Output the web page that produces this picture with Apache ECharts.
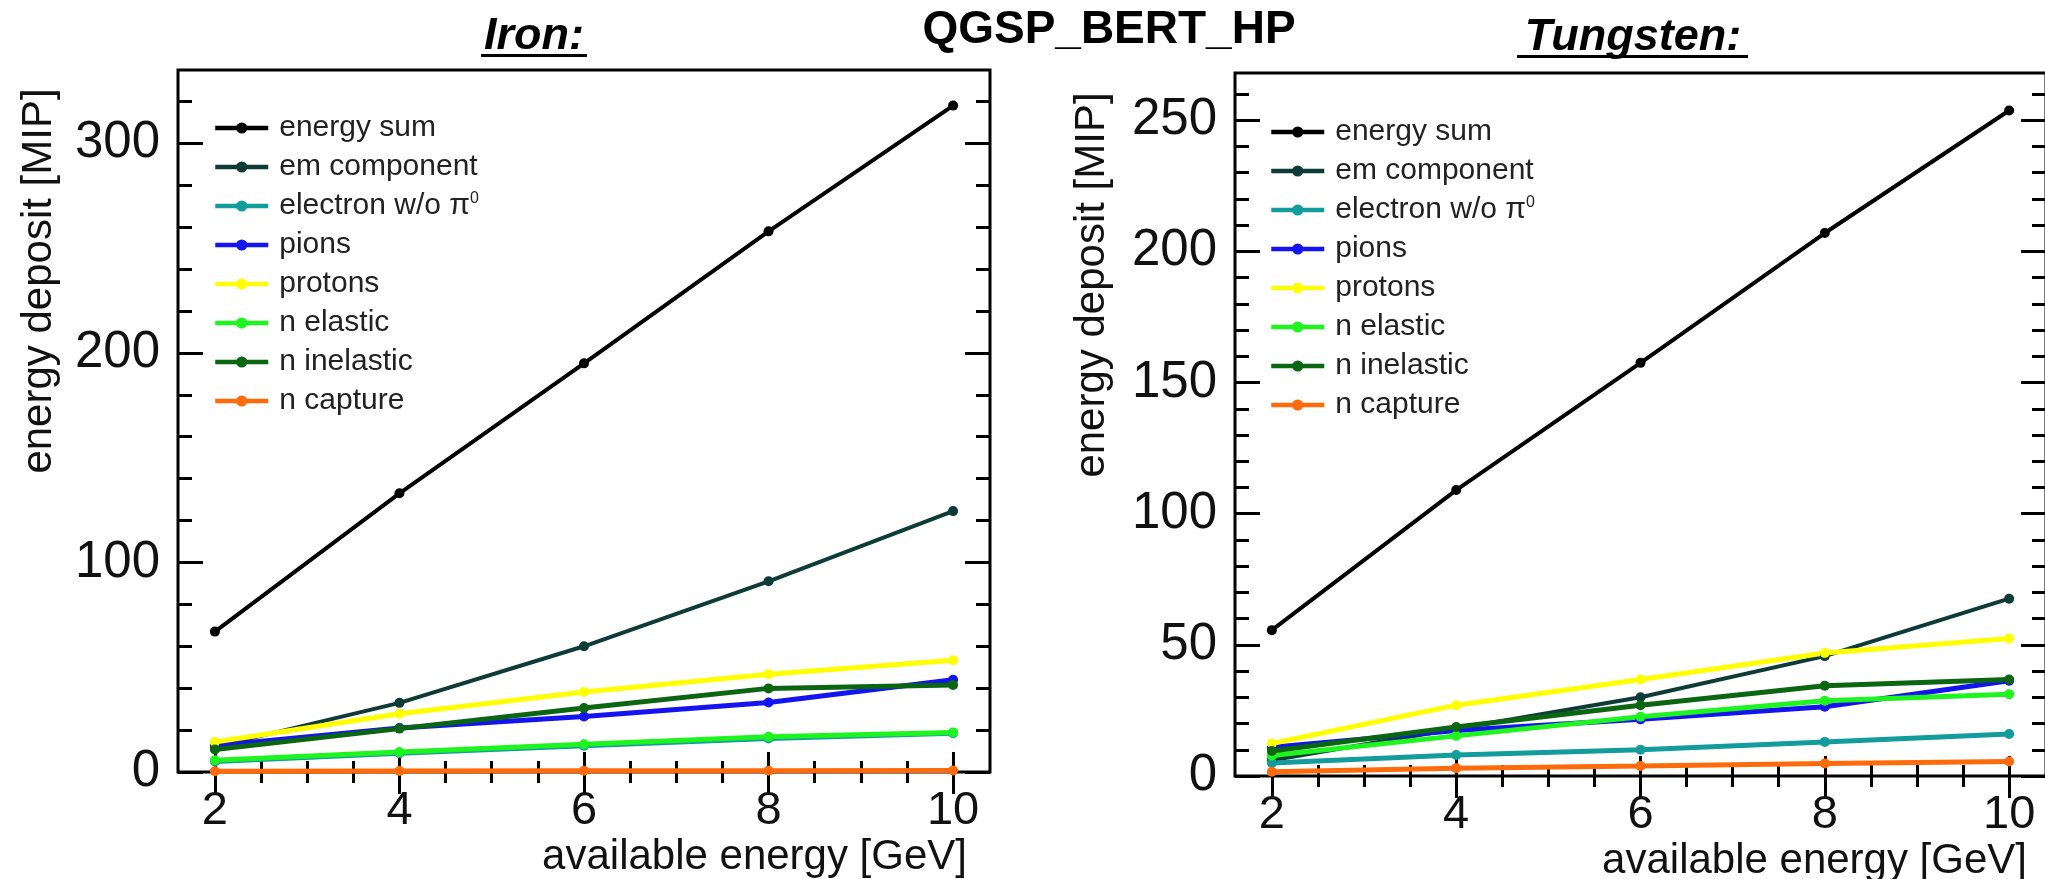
<!DOCTYPE html>
<html>
<head>
<meta charset="utf-8">
<title>QGSP_BERT_HP</title>
<script src="https://cdn.jsdelivr.net/npm/echarts@6/dist/echarts.min.js"></script>
<style>
  html, body { margin: 0; padding: 0; background: #fff; }
  #main { width: 2045px; height: 879px; }
</style>
</head>
<body>
<div id="main"></div>
<script>
// available energy [GeV]
const energies = [2, 4, 6, 8, 10];
const xTicks = [2, 4, 6, 8, 10];
const ironYTicks = [0, 100, 200, 300];
const tungstenYTicks = [0, 50, 100, 150, 200, 250];

const seriesNames = ['energy sum', 'em component', 'electron w/o π0', 'pions', 'protons', 'n elastic', 'n inelastic', 'n capture'];
const seriesColors = ['#000000', '#0d3b38', '#129c9c', '#1414f0', '#ffff00', '#1ef51e', '#0b6612', '#ff6a0a'];

// Iron, energy deposit [MIP]
const ironEnergySum = [67, 133, 195, 258, 318];
const ironEm = [12, 33, 60, 91, 124.5];
const ironElectron = [5, 9, 12.5, 16, 18.5];
const ironPions = [12.5, 21, 26.5, 33.2, 44];
const ironProtons = [14.3, 27.8, 38.2, 46.7, 53.3];
const ironNElastic = [5.6, 9.5, 13.2, 16.8, 18.9];
const ironNInelastic = [10.7, 20.7, 30.5, 39.9, 41.5];
const ironNCapture = [0.4, 0.5, 0.6, 0.6, 0.7];

// Tungsten, energy deposit [MIP]
const tungstenEnergySum = [55.6, 109, 157.5, 207, 253.7];
const tungstenEm = [6, 18, 30, 45.7, 67.6];
const tungstenElectron = [5, 8, 10, 13, 16];
const tungstenPions = [11, 17.3, 21.6, 26.4, 36.3];
const tungstenProtons = [12.4, 27, 36.8, 46.9, 52.4];
const tungstenNElastic = [7.8, 15.3, 22.6, 28.7, 31.2];
const tungstenNInelastic = [9.5, 18.7, 27, 34.4, 36.8];
const tungstenNCapture = [1.6, 3, 3.8, 4.8, 5.5];

const ironData = [ironEnergySum, ironEm, ironElectron, ironPions, ironProtons, ironNElastic, ironNInelastic, ironNCapture];
const tungstenData = [tungstenEnergySum, tungstenEm, tungstenElectron, tungstenPions, tungstenProtons, tungstenNElastic, tungstenNInelastic, tungstenNCapture];

const font = '"Liberation Sans", Arial, Helvetica, sans-serif';

// minor ticks, ROOT style
function minorTicks(from, to, step) {
  const list = [];
  for (let v = from; v <= to + 1e-9; v += step) list.push(+v.toFixed(3));
  return list;
}

const tickLine = { color: '#000', width: 3 };

function xAxes(gridIndex) {
  const base = { type: 'value', gridIndex, min: 1.6, max: 10.4, axisLine: { show: false }, splitLine: { show: false } };
  const minor = minorTicks(2, 10, 0.5);
  return [
    Object.assign({}, base, {
      position: 'bottom',
      axisTick: { inside: true, length: 20, lineStyle: tickLine, customValues: xTicks },
      axisLabel: { customValues: xTicks, margin: 16, fontSize: 47, fontFamily: font, color: '#111' }
    }),
    Object.assign({}, base, { position: 'bottom', axisTick: { inside: true, length: 11, lineStyle: tickLine, customValues: minor }, axisLabel: { show: false } }),
    Object.assign({}, base, { position: 'top', axisTick: { inside: true, length: 22, lineStyle: tickLine, customValues: xTicks }, axisLabel: { show: false } }),
    Object.assign({}, base, { position: 'top', axisTick: { inside: true, length: 11, lineStyle: tickLine, customValues: minor }, axisLabel: { show: false } })
  ];
}

function yAxes(gridIndex, max, ticks, minorStep) {
  const base = { type: 'value', gridIndex, min: 0, max, axisLine: { show: false }, splitLine: { show: false } };
  const minor = minorTicks(0, max, minorStep);
  return [
    Object.assign({}, base, {
      position: 'left',
      axisTick: { inside: true, length: 25, lineStyle: tickLine, customValues: ticks },
      axisLabel: { customValues: ticks, margin: 18, fontSize: 51, fontFamily: font, color: '#111' }
    }),
    Object.assign({}, base, { position: 'left', axisTick: { inside: true, length: 14, lineStyle: tickLine, customValues: minor }, axisLabel: { show: false } }),
    Object.assign({}, base, { position: 'right', axisTick: { inside: true, length: 25, lineStyle: tickLine, customValues: ticks }, axisLabel: { show: false } }),
    Object.assign({}, base, { position: 'right', axisTick: { inside: true, length: 14, lineStyle: tickLine, customValues: minor }, axisLabel: { show: false } })
  ];
}

function makeSeries(dataList, axisIndex) {
  return dataList.map((values, i) => ({
    name: seriesNames[i],
    type: 'line',
    xAxisIndex: axisIndex,
    yAxisIndex: axisIndex,
    data: energies.map((e, k) => [e, values[k]]),
    symbol: 'circle',
    symbolSize: 10,
    color: seriesColors[i],
    lineStyle: { width: i < 2 ? 4 : 5 },
    animation: false
  }));
}

function makeLegend(left, top) {
  return {
    left, top,
    orient: 'vertical',
    padding: 0,
    itemWidth: 53,
    itemHeight: 14,
    itemGap: 9,
    selectedMode: false,
    data: seriesNames,
    lineStyle: { width: 4.5 },
    itemStyle: { borderWidth: 0 },
    formatter: name => name.replace('π0', 'π{sup|0}'),
    textStyle: {
      fontFamily: font, fontSize: 30, color: '#222', lineHeight: 30, padding: [0, 0, 0, 6],
      rich: { sup: { fontFamily: font, fontSize: 16, lineHeight: 16, verticalAlign: 'top', color: '#222' } }
    }
  };
}

const chart = echarts.init(document.getElementById('main'));
chart.setOption({
  backgroundColor: '#fff',
  animation: false,
  grid: [
    { left: 178, top: 70, width: 812, height: 702, outerBoundsMode: 'none', show: true, borderColor: '#000', borderWidth: 3, backgroundColor: 'transparent' },
    { left: 1235, top: 73, width: 811, height: 703, outerBoundsMode: 'none', show: true, borderColor: '#000', borderWidth: 3, backgroundColor: 'transparent' }
  ],
  xAxis: xAxes(0).concat(xAxes(1)),
  yAxis: yAxes(0, 335, ironYTicks, 20).concat(yAxes(1, 268, tungstenYTicks, 10)),
  legend: [makeLegend(213, 113), makeLegend(1269, 117)],
  series: makeSeries(ironData, 0).concat(makeSeries(tungstenData, 4)),
  graphic: [
    { type: 'text', x: 1109, y: 30, style: { text: 'QGSP_BERT_HP', font: 'bold 46px ' + font, fill: '#000', align: 'center', verticalAlign: 'middle' } },
    { type: 'text', x: 534, y: 37, style: { text: 'Iron:', font: 'italic bold 45px ' + font, fill: '#000', align: 'center', verticalAlign: 'middle' } },
    { type: 'rect', shape: { x: 481, y: 54, width: 106, height: 3 }, style: { fill: '#000' } },
    { type: 'text', x: 1633, y: 38, style: { text: 'Tungsten:', font: 'italic bold 45px ' + font, fill: '#000', align: 'center', verticalAlign: 'middle' } },
    { type: 'rect', shape: { x: 1517, y: 55, width: 231, height: 3 }, style: { fill: '#000' } },
    { type: 'text', x: 39, y: 281, rotation: Math.PI / 2, style: { text: 'energy deposit [MIP]', font: '42px ' + font, fill: '#111', align: 'center', verticalAlign: 'middle' } },
    { type: 'text', x: 1092, y: 285, rotation: Math.PI / 2, style: { text: 'energy deposit [MIP]', font: '42px ' + font, fill: '#111', align: 'center', verticalAlign: 'middle' } },
    { type: 'text', x: 967, y: 857, style: { text: 'available energy [GeV]', font: '42px ' + font, fill: '#111', align: 'right', verticalAlign: 'middle' } },
    { type: 'text', x: 2027, y: 861, style: { text: 'available energy [GeV]', font: '42px ' + font, fill: '#111', align: 'right', verticalAlign: 'middle' } }
  ]
});
</script>
</body>
</html>
